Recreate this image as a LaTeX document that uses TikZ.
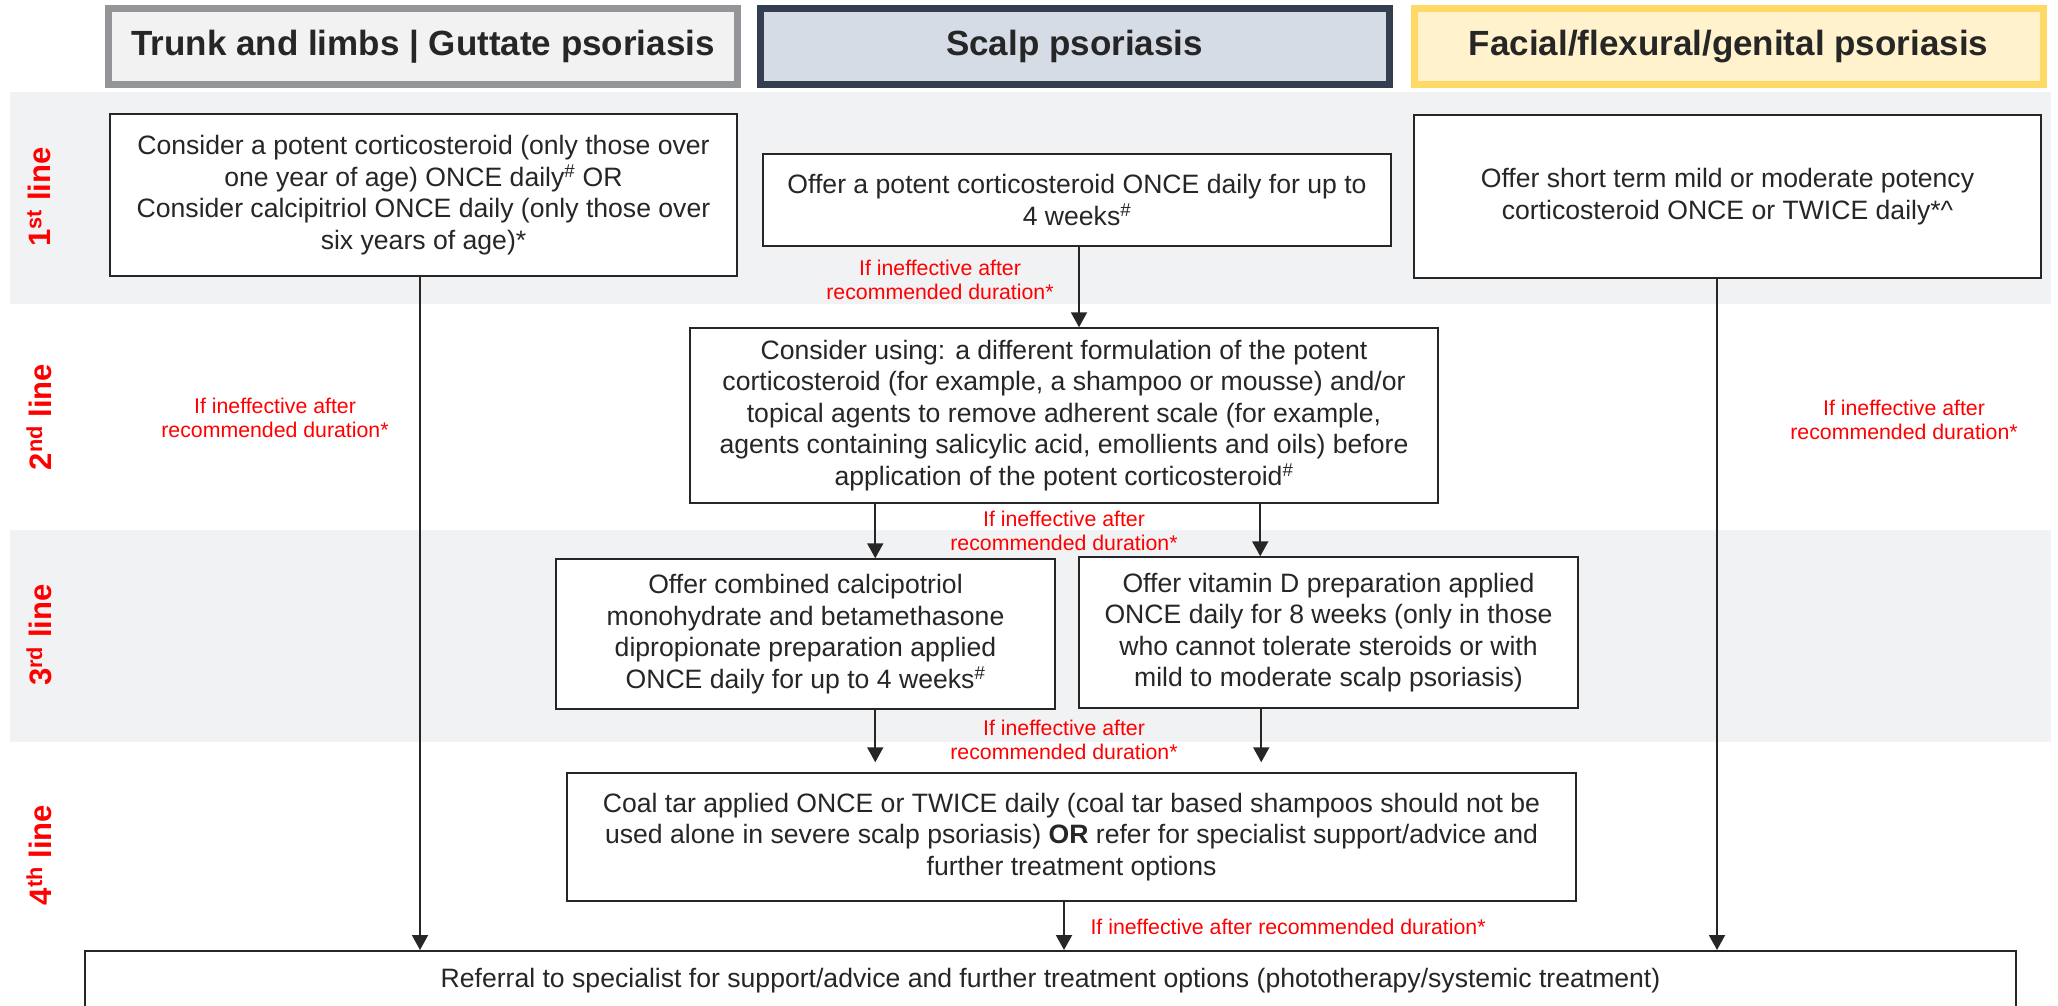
\documentclass[tikz,border=0pt]{standalone}
\usepackage{fontspec}
\setmainfont{Liberation Sans}
\usepackage{xcolor}
\usetikzlibrary{positioning, arrows.meta}
\definecolor{bandgrey}{HTML}{F1F2F4}
\definecolor{inkgrey}{HTML}{262626}
\definecolor{hdrAline}{HTML}{939598}
\definecolor{hdrAfill}{HTML}{F2F2F3}
\definecolor{hdrBline}{HTML}{333F50}
\definecolor{hdrBfill}{HTML}{D6DCE5}
\definecolor{hdrCline}{HTML}{FFD966}
\definecolor{hdrCfill}{HTML}{FFF2CC}
\definecolor{alertred}{HTML}{FF0000}

\begin{document}
\begin{tikzpicture}[x=1pt,y=-1pt,
    hdr/.style={draw, line width=7pt, minimum width=629pt, minimum height=76pt,
        text=inkgrey, font=\fontsize{35}{40}\selectfont\bfseries},
    box/.style={draw=inkgrey, line width=1.5pt, fill=white, align=center,
        text=inkgrey, inner sep=0pt, font=\fontsize{26.6}{31.5}\selectfont},
    note/.style={align=center, text=alertred, font=\fontsize{21.3}{24}\selectfont},
    rowlab/.style={rotate=90, text=alertred, font=\fontsize{31}{34}\selectfont\bfseries},
    flow/.style={-{Triangle[length=15pt,width=16pt]}, line width=2pt, color=inkgrey}]
    \useasboundingbox (0,0) rectangle (2058,1006);

    % grey bands for 1st and 3rd line
    \fill[bandgrey] (10,92) rectangle (2051,304);
    \fill[bandgrey] (10,530) rectangle (2051,742);

    % column headers
    \node[hdr, draw=hdrAline, fill=hdrAfill] (hdrtrunk) at (423,46.5) {Trunk and limbs | Guttate psoriasis};
    \node[hdr, draw=hdrBline, fill=hdrBfill] (hdrscalp) at (1074.5,46.5) {Scalp psoriasis};
    \node[hdr, draw=hdrCline, fill=hdrCfill] (hdrface) at (1728.5,46.5) {Facial/flexural/genital psoriasis};

    % row labels
    \node[rowlab] (row1) at (39,197) {1\textsuperscript{st} line};
    \node[rowlab] (row2) at (39,417) {2\textsuperscript{nd} line};
    \node[rowlab] (row3) at (39,635) {3\textsuperscript{rd} line};
    \node[rowlab] (row4) at (39,855) {4\textsuperscript{th} line};

    % treatment boxes
    \node[box, minimum width=627pt, minimum height=162pt] (trunk1) at (423.5,195)
        {Consider a potent corticosteroid (only those over\\
         one year of age) ONCE daily\textsuperscript{\#} OR\\
         Consider calcipitriol ONCE daily (only those over\\
         six years of age)*};
    \node[box, minimum width=628pt, minimum height=92pt] (scalp1) at (1077,200)
        {Offer a potent corticosteroid ONCE daily for up to\\
         4 weeks\textsuperscript{\#}};
    \node[box, minimum width=627pt, minimum height=163pt] (face1) at (1727.5,196.5)
        {Offer short term mild or moderate potency\\
         corticosteroid ONCE or TWICE daily*\textasciicircum};
    \node[box, minimum width=748pt, minimum height=175pt] (scalp2) at (1064,415.5)
        {Consider using: a different formulation of the potent\\
         corticosteroid (for example, a shampoo or mousse) and/or\\
         topical agents to remove adherent scale (for example,\\
         agents containing salicylic acid, emollients and oils) before\\
         application of the potent corticosteroid\textsuperscript{\#}};
    \node[box, minimum width=499pt, minimum height=150pt] (combo3) at (805.5,634)
        {Offer combined calcipotriol\\
         monohydrate and betamethasone\\
         dipropionate preparation applied\\
         ONCE daily for up to 4 weeks\textsuperscript{\#}};
    \node[box, minimum width=499pt, minimum height=151pt] (vitd3) at (1328.5,632.5)
        {Offer vitamin D preparation applied\\
         ONCE daily for 8 weeks (only in those\\
         who cannot tolerate steroids or with\\
         mild to moderate scalp psoriasis)};
    \node[box, minimum width=1009pt, minimum height=128pt] (coal4) at (1071.5,837)
        {Coal tar applied ONCE or TWICE daily (coal tar based shampoos should not be\\
         used alone in severe scalp psoriasis) \textbf{OR} refer for specialist support/advice and\\
         further treatment options};
    \node[box, minimum width=1931pt, minimum height=60pt, anchor=north] (referral) at (1050.5,950)
        {Referral to specialist for support/advice and further treatment options (phototherapy/systemic treatment)};

    % failure notes
    \node[note] (fail1) at (940,280) {If ineffective after\\recommended duration*};
    \node[note] (failtrunk) at (275,418) {If ineffective after\\recommended duration*};
    \node[note] (failface) at (1904,420) {If ineffective after\\recommended duration*};
    \node[note] (fail2) at (1064,531) {If ineffective after\\recommended duration*};
    \node[note] (fail3) at (1064,740) {If ineffective after\\recommended duration*};
    \node[note, anchor=west] (fail4) at (1087,927) {If ineffective after recommended duration*};

    \path[flow]
        ([xshift=-3.5pt]trunk1.south) edge ([xshift=-3.5pt]trunk1.south |- referral.north)
        ([xshift=2pt]scalp1.south) edge ([xshift=2pt]scalp1.south |- scalp2.north)
        ([xshift=-10.5pt]face1.south) edge ([xshift=-10.5pt]face1.south |- referral.north)
        ([xshift=186pt]scalp2.south west) edge ([xshift=186pt]scalp2.south west |- combo3.north)
        ([xshift=571pt]scalp2.south west) edge ([xshift=571pt]scalp2.south west |- vitd3.north)
        ([xshift=-7.5pt]coal4.south) edge ([xshift=-7.5pt]coal4.south |- referral.north);
    \path[flow, shorten >=10pt]
        ([xshift=320pt]combo3.south west) edge ([xshift=320pt]combo3.south west |- coal4.north)
        ([xshift=183pt]vitd3.south west) edge ([xshift=183pt]vitd3.south west |- coal4.north);
\end{tikzpicture}
\end{document}
